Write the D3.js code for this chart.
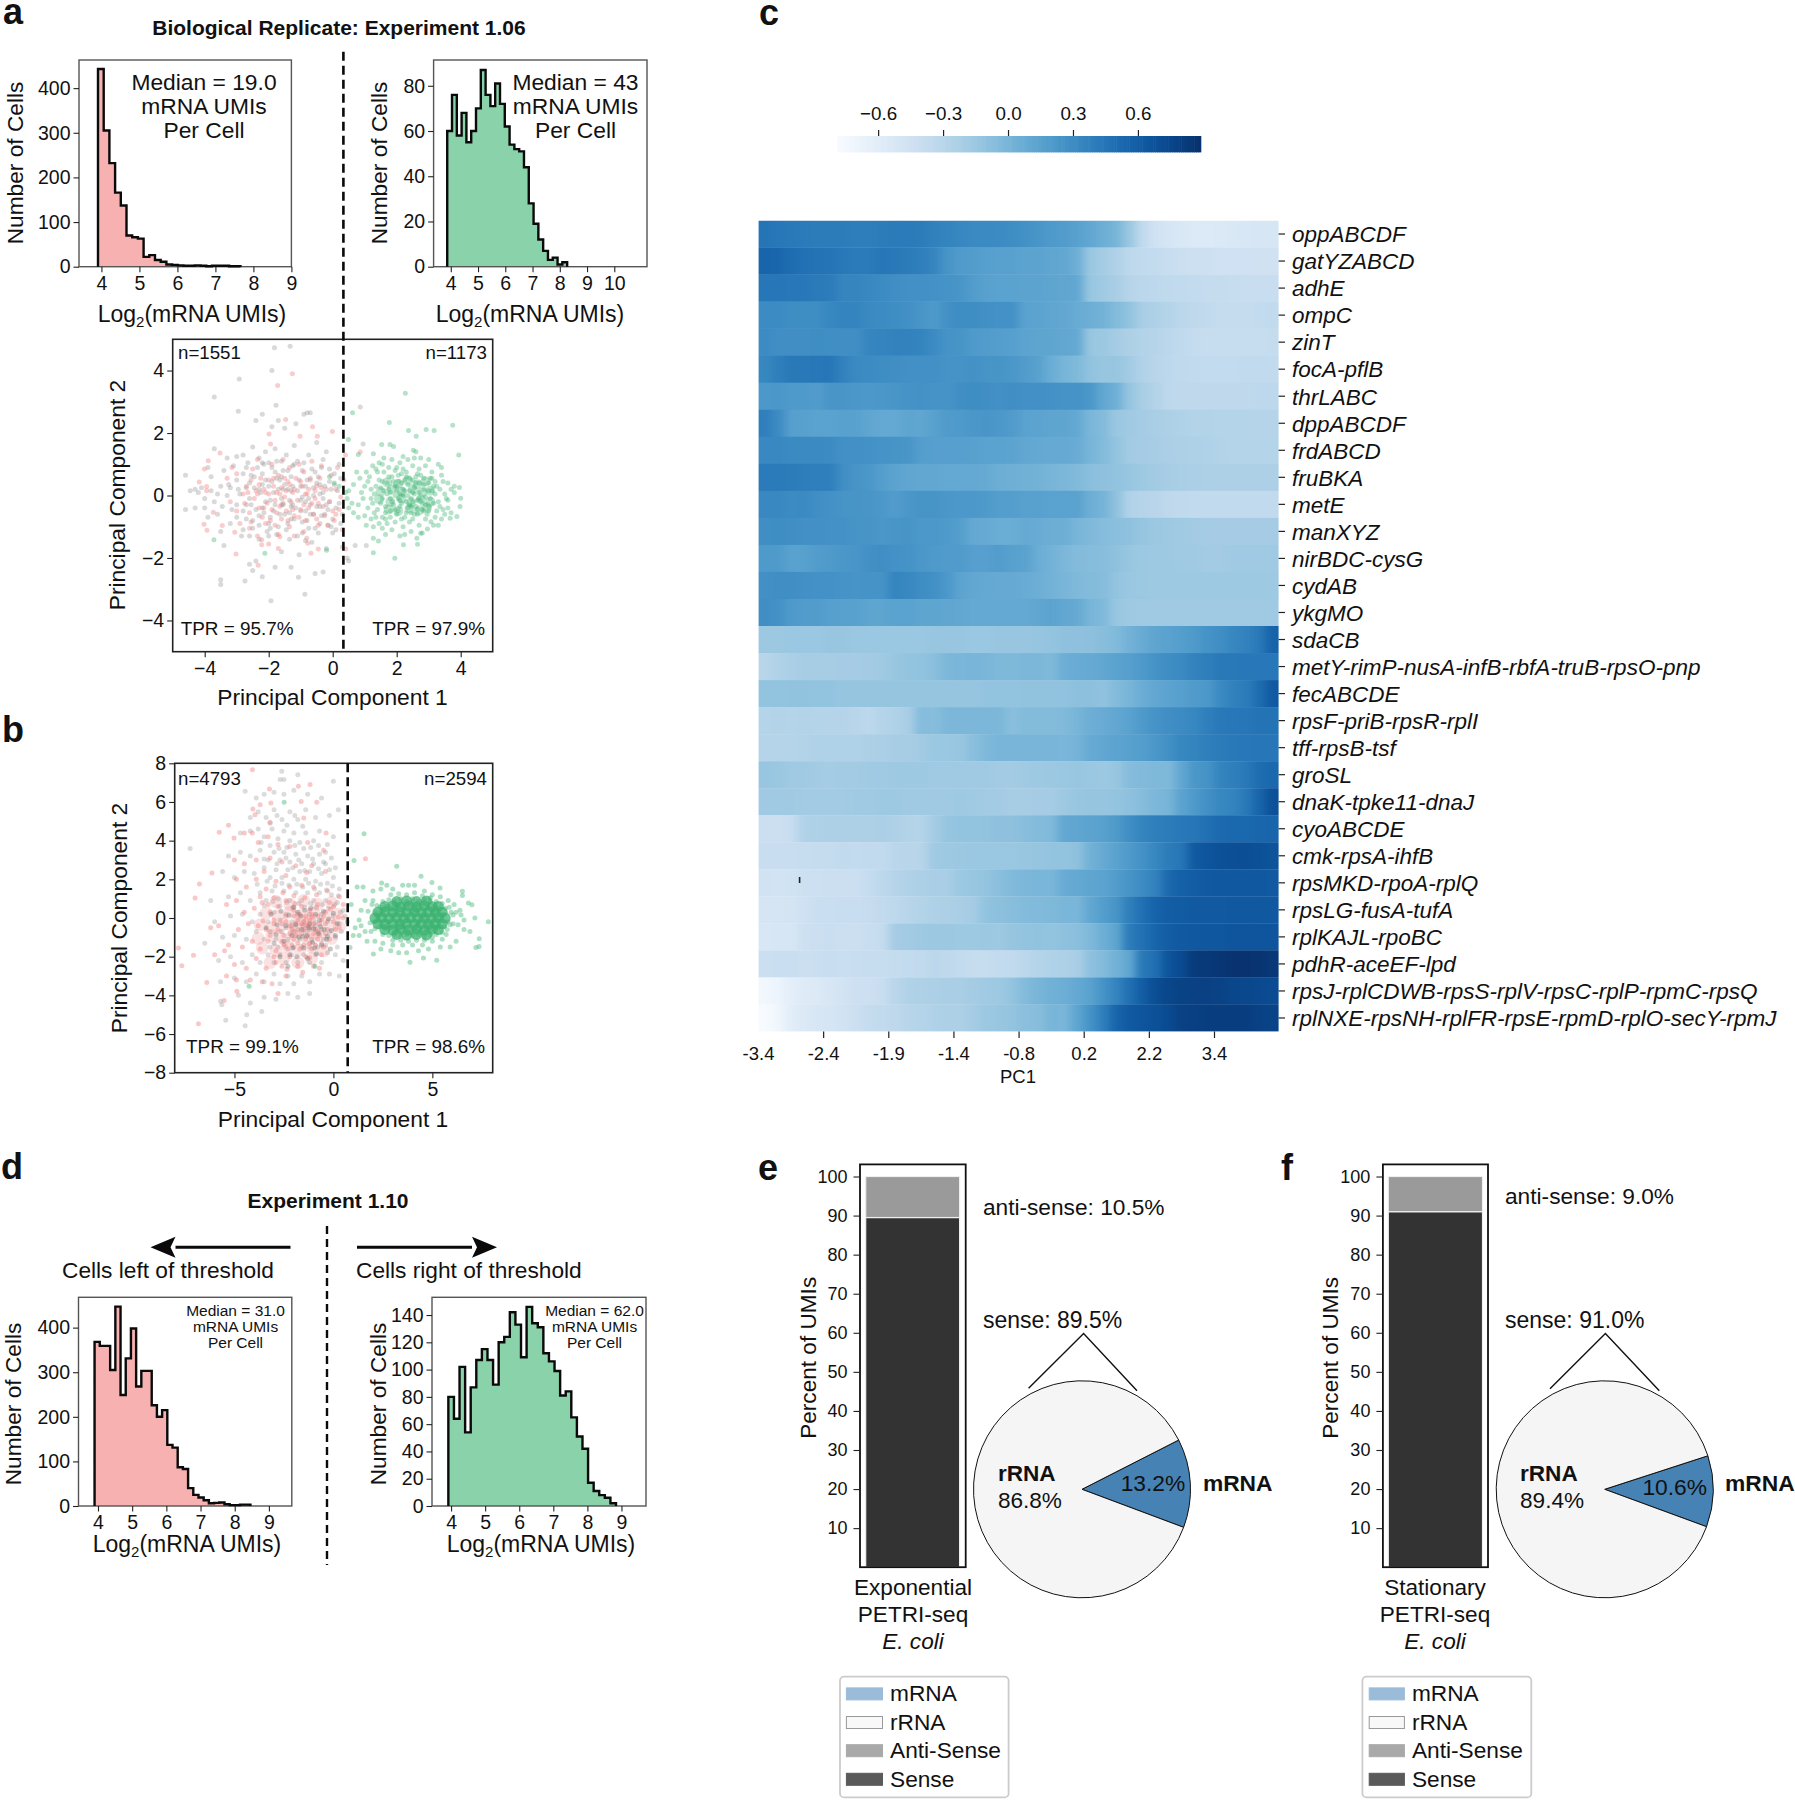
<!DOCTYPE html>
<html><head><meta charset="utf-8">
<style>html,body{margin:0;padding:0;background:#fff}svg{display:block}text{font-family:"Liberation Sans",Arial,sans-serif;fill:#111}</style>
<script src="https://cdn.jsdelivr.net/npm/d3@7"></script></head><body><script>
// ---------- data ----------
const histALeft=[443,305,232,166,137,70,66,63,22,26,15,11,5,4,3,2,2,3,2,1,2,2,2,1,1];
const histARight=[60,76,58,68,55,60,70,87,76,71,81,72,62,54,52,51,44,28,19,12,7,3,4,1,2];
const histDLeft=[368,359,359,305,447,249,331,398,268,303,303,226,200,215,137,131,87,83,40,25,19,13,6,7,8,4,2,2,3,3];
const histDRight=[80,64,102,54,87,107,115,107,89,120,124,142,133,109,146,134,131,112,106,99,81,84,65,51,42,17,11,8,6,2];
const genes=["oppABCDF","gatYZABCD","adhE","ompC","zinT","focA-pflB","thrLABC","dppABCDF","frdABCD","fruBKA","metE","manXYZ","nirBDC-cysG","cydAB","ykgMO","sdaCB","metY-rimP-nusA-infB-rbfA-truB-rpsO-pnp","fecABCDE","rpsF-priB-rpsR-rplI","tff-rpsB-tsf","groSL","dnaK-tpke11-dnaJ","cyoABCDE","cmk-rpsA-ihfB","rpsMKD-rpoA-rplQ","rpsLG-fusA-tufA","rplKAJL-rpoBC","pdhR-aceEF-lpd","rpsJ-rplCDWB-rpsS-rplV-rpsC-rplP-rpmC-rpsQ","rplNXE-rpsNH-rplFR-rpsE-rpmD-rplO-secY-rpmJ"];
const pcTicks=["-3.4","-2.4","-1.9","-1.4","-0.8","0.2","2.2","3.4"];
const heat=[
[45,43,42,41,40,40,40,39,39,40,41,41,40,37,35,33,31,31,30,29,26,23,20,18,15,10,5,0,-15,-35,-46,-50,-54,-56,-56,-55,-54,-53,-52,-52],
[55,54,50,47,46,45,42,41,41,44,42,40,38,34,24,19,18,16,15,15,13,13,11,10,5,-15,-20,-25,-33,-36,-37,-40,-42,-43,-44,-45,-45,-45,-46,-46],
[44,44,43,43,41,40,34,34,32,30,28,27,27,26,25,23,18,15,14,14,13,13,12,11,10,-14,-18,-22,-29,-32,-33,-35,-36,-37,-38,-38,-39,-40,-40,-40],
[30,30,29,29,29,33,35,35,31,30,29,27,23,20,27,29,29,27,26,26,14,13,11,10,7,5,2,-5,-11,-22,-25,-28,-32,-34,-36,-38,-38,-38,-37,-36],
[30,28,28,28,29,28,28,28,34,35,36,36,35,30,25,24,20,18,17,16,13,12,12,10,9,-14,-16,-20,-24,-27,-29,-32,-35,-38,-39,-39,-39,-39,-39,-38],
[33,38,42,42,43,44,36,31,30,29,28,27,27,27,25,25,26,24,24,22,18,15,6,0,-3,-11,-14,-14,-19,-26,-30,-33,-35,-36,-37,-37,-37,-36,-36,-36],
[21,22,20,20,18,23,23,22,21,22,23,25,26,25,24,28,29,28,27,28,27,27,26,25,25,22,10,4,-13,-22,-27,-33,-34,-34,-34,-34,-34,-34,-33,-33],
[38,30,16,15,14,14,15,15,11,9,9,12,11,15,19,20,22,23,21,19,14,13,12,12,9,-1,-5,-15,-18,-20,-22,-24,-26,-27,-27,-28,-28,-28,-29,-29],
[32,32,31,31,31,30,27,27,26,25,24,23,17,16,16,16,15,14,14,13,10,9,8,8,7,0,-5,-12,-19,-20,-21,-23,-24,-25,-26,-27,-28,-28,-28,-28],
[41,41,40,39,38,38,28,24,22,17,13,11,10,10,9,9,9,8,5,4,3,2,0,-2,-4,-8,-10,-11,-14,-17,-19,-21,-22,-23,-24,-24,-24,-24,-24,-24],
[32,32,30,31,28,26,24,24,23,21,18,22,24,24,22,21,21,20,17,17,15,15,14,14,14,5,1,-10,-26,-29,-30,-34,-35,-36,-36,-36,-36,-36,-36,-36],
[28,29,28,27,27,26,26,24,24,22,23,24,21,21,20,17,9,8,6,6,8,7,5,5,0,-3,-6,-8,-10,-13,-16,-17,-18,-19,-20,-20,-20,-20,-20,-20],
[20,20,14,15,18,20,22,23,27,28,26,25,22,20,19,19,16,16,18,15,14,6,2,-2,-5,-6,-7,-10,-14,-16,-17,-17,-18,-18,-19,-19,-18,-18,-18,-18],
[27,28,28,27,26,26,25,24,25,25,35,32,29,27,21,13,10,9,8,8,7,5,2,0,-3,-5,-6,-12,-15,-16,-17,-17,-17,-17,-17,-17,-17,-17,-17,-17],
[28,26,20,18,18,16,15,15,12,12,14,14,12,12,11,10,9,9,9,9,9,11,13,10,8,0,-3,-14,-17,-18,-18,-18,-18,-18,-18,-18,-18,-18,-18,-18],
[-16,-16,-15,-15,-15,-14,-14,-15,-15,-15,-15,-15,-15,-14,-14,-14,-15,-15,-14,-14,-14,-13,-12,-10,-10,-9,-7,-4,2,7,12,14,17,20,25,28,33,36,42,56],
[-30,-26,-23,-21,-21,-21,-20,-20,-19,-18,-14,-12,-11,-8,-2,-1,0,-1,-3,-3,-2,-2,-3,5,7,8,10,14,16,20,25,29,31,36,38,42,42,43,43,43],
[-12,-12,-11,-11,-12,-12,-13,-13,-13,-13,-13,-13,-13,-13,-13,-13,-13,-12,-12,-12,-11,-11,-11,-11,-9,-9,-11,-5,0,6,10,13,16,19,21,31,37,40,50,62],
[-28,-27,-28,-27,-28,-29,-29,-30,-33,-28,-26,-22,-6,-7,-2,-2,-2,-2,-2,-8,-5,-5,-5,-4,0,5,7,10,14,20,25,28,30,33,38,42,43,44,46,46],
[-29,-29,-28,-27,-26,-26,-26,-26,-24,-23,-21,-21,-19,-15,-15,-14,-8,-3,0,0,0,0,0,-1,1,8,10,13,15,17,22,27,33,35,38,40,42,43,44,44],
[-14,-15,-18,-18,-19,-20,-19,-19,-18,-18,-17,-17,-17,-18,-18,-18,-18,-18,-19,-19,-18,-17,-16,-15,-14,-15,-16,-14,-6,-4,-3,-3,10,22,25,35,38,42,50,53],
[-18,-18,-18,-19,-19,-19,-19,-18,-18,-17,-17,-18,-18,-18,-18,-17,-18,-19,-19,-21,-21,-20,-20,-17,-14,-13,-13,-12,-10,-6,-2,0,13,20,27,33,35,42,55,68],
[-42,-42,-40,-26,-25,-24,-24,-24,-24,-23,-25,-27,-28,-20,-13,-12,-12,-11,-10,-10,-7,-5,-4,10,11,13,15,20,28,35,38,40,43,44,48,52,53,53,54,55],
[-40,-40,-40,-39,-38,-38,-36,-37,-36,-36,-31,-30,-30,-18,-17,-16,-15,-15,-15,-15,-14,-13,-12,-12,-10,3,8,14,20,26,33,40,44,62,65,68,69,70,68,66],
[-47,-48,-47,-43,-43,-42,-42,-42,-38,-33,-29,-26,-24,-22,-22,-16,-14,-12,-8,-4,-2,-1,-1,7,9,12,13,18,24,30,36,52,58,60,62,63,63,63,63,62],
[-50,-50,-49,-45,-41,-41,-40,-40,-39,-36,-33,-30,-27,-25,-24,-22,-20,-11,-9,-7,-5,-4,-3,-1,-1,10,17,24,38,48,56,60,61,62,62,62,63,63,63,63],
[-53,-52,-52,-44,-42,-41,-42,-42,-40,-38,-20,-19,-17,-16,-16,-17,-17,-16,-17,-13,-12,-11,-12,-10,-8,-3,5,12,40,47,55,60,62,63,64,64,65,65,65,65],
[-42,-41,-41,-42,-41,-40,-41,-40,-39,-39,-38,-37,-36,-32,-34,-37,-39,-39,-37,-36,-32,-28,-26,-25,-22,-10,-5,3,10,42,48,66,72,82,83,85,87,87,86,84],
[-74,-70,-62,-58,-56,-52,-48,-44,-44,-40,-31,-26,-25,-24,-22,-22,-20,-18,-17,-12,-5,0,3,5,9,14,25,35,48,60,70,75,77,78,78,77,75,74,73,72],
[-79,-72,-60,-56,-52,-50,-47,-42,-38,-36,-34,-30,-28,-26,-24,-24,-20,-16,-14,-12,-8,-7,0,-1,12,25,38,55,62,65,68,72,78,79,80,80,80,80,78,76]];

// scatter a: flat x,y lists
const grayA=[-4.6,.65,-4.45,.15,-4.3,.2,-4.2,.1,-4.1,.25,-4.6,-.45,-4.3,-.4,-4,-.1,-3.9,.9,-3.8,.6,-3.7,-.2,-3.6,-.6,-3.5,.3,-3.4,.8,-3.3,0,-3.2,-.9,-3.9,-.7,-3.5,-1.15,-3.4,-1.6,-3.7,1.5,-3.7,3.15,-2.95,2.7,-2.92,3.73,-3,1.25,-3,.5,-2.9,.05,-2.8,-.5,-2.8,1.3,-2.7,.9,-2.7,-.3,-2.6,-1.3,-2.5,1.55,-2.6,.4,-2.5,-.8,-2.4,2.4,-2.4,-2.1,-2.6,-2.2,-2.5,-2.4,-2.3,1.2,-2.3,-1.4,-2.2,2.6,-2.2,.7,-2.1,-.2,-1.82,4.73,-1.33,4.78,-1.9,4,-3.5,-2.7,-3.5,-2.85,-2.74,-2.74,-1.93,-3.37,-.87,-3.16,-1.07,-2.62,-1.77,2.89,.86,2.83,-2.1,1.4,-2,-1.3,-2,.3,-1.95,-.7,-1.9,2.2,-1.9,.9,-1.85,.1,-1.8,-2.3,-1.8,-.3,-1.75,1.1,-1.7,-1,-1.7,2.4,-1.65,.5,-1.6,-.1,-1.6,-1.8,-1.55,.8,-1.5,-.6,-1.5,2.15,-1.45,1.3,-1.4,-.9,-1.4,.2,-1.35,-1.4,-1.3,-2.3,-1.3,.6,-1.25,-.3,-1.2,1.6,-1.2,-.75,-1.15,2.3,-1.1,.15,-1.1,1.1,-1.05,-1.9,-1,-.5,-.95,.8,-.95,-1.2,-.9,2.6,-.85,.3,-.85,-.2,-.8,-.8,-.8,2.65,-.7,2.65,-.75,1.3,-.7,.55,-.65,-1.5,-.6,0,-.6,-.6,-.55,-2.5,-.5,1.7,-.5,.4,-.45,-1.2,-.4,-.35,-.4,-.9,-.35,.9,-.3,-2.45,-.3,.1,-.25,-.6,-.2,1.4,-.2,-1.7,-.1,.45,-.1,-.2,-.05,-1,0,-1.2,.05,.7,.1,-.4,.2,1,.25,-.9,.3,-1.65,.45,-2,.5,-2.1,.7,-1.6,.95,1.65,1.05,-1.6,-2.3,.2,-2.2,-.4,-2,-.9,-2.15,1,-2.7,.25,-2.45,.6,-2.3,-.65,-1.75,.55,-1.55,.2,-1.3,-.35,-1.25,.95,-.95,-.05,-.55,.75,-1.8,1.5,-2.8,-1.1,-2.2,-2.6,-3,-.3,-1.6,.6,-.85,-.5,-.3,-.1,
-3.3,1.2,-3.25,.35,-3.15,-.45,-3.1,.95,-3,-.7,-2.95,.2,-2.85,-1.3,-2.8,.7,-2.7,-.75,-2.65,1.05,-2.6,-.1,-2.55,.65,-2.5,-1.05,-2.45,.25,-2.4,-.45,-2.35,.9,-2.3,-.95,-2.25,.1,-2.2,1.05,-2.15,-.55,-2.1,.5,-2.05,-1.15,-2,1.05,-1.95,-.15,-1.9,.45,-1.85,-.5,-1.8,.75,-1.75,-1.25,-1.7,.2,-1.65,-.6,-1.6,1.1,-1.55,-.3,-1.5,.35,-1.45,-1.1,-1.4,.8,-1.35,-.15,-1.3,-.75,-1.25,.3,-1.2,1,-1.15,-.4,-1.1,-1.3,-1.05,.5,-1,-.15,-.95,-.85,-.9,1.05,-.85,-1.45,-.8,.5,-.75,-.1,-.7,-.6,-.65,.85,-.6,.25,-.55,-1.05,-.5,-.35,-.45,.6,-.4,.05,-.35,-.65,-.3,1.15,-.25,.3,-.2,-.3,-.15,-.95,-.1,.85,-.05,.2,0,-.75,.05,.35,.1,-1.1,.15,.15,.2,-.25,.25,.55,.3,-.6,-2.2,.35,-1.6,-.3,-1.3,.15,-1,.3,-.7,-.3,-.4,.35,-2.55,-.3,-1.95,-1.05,-1.35,-.55,-.75,-1.05,-.15,-.45,-3.6,.05,-3.45,-.35,-3.2,.25,-4,-.4,-3.8,.15];
const redA=[-1.26,3.9,-1.72,3.52,-1.47,2.43,-.63,2.2,-.01,2.05,-.48,1.9,-1.99,1.97,-1.02,1.9,-1.94,1.65,-3.52,1.36,-3.89,1.11,-4.01,.85,-4.17,.43,-3.94,.29,-3.94,.15,-3.73,-.54,-4.02,-.92,-3.93,-1.11,-3.45,-.96,-3.06,-1.18,-3.02,-1.87,-2.33,-2.23,-2.22,-1.42,-2.22,-1.58,-.45,-1.71,-.68,-1.85,.41,-1.71,.86,1.39,-.81,-1.37,-.78,-1.53,-1.65,-1.32,-3.3,.55,-3.2,-.2,-3,-.5,-3,.7,-2.8,.05,-2.75,-.25,-2.7,.3,-2.6,-.55,-2.55,.5,-2.5,.85,-2.45,-.1,-2.4,.15,-2.35,1.15,-2.3,-.4,-2.25,.55,-2.2,-.7,-2.15,.2,-2.1,.1,-2.05,-.25,-2,.5,-1.95,-.8,-1.9,1,-1.85,.3,-1.8,-.15,-1.8,-.95,-1.75,.1,-1.7,.65,-1.65,-.35,-1.6,.25,-1.6,-.75,-1.55,1.15,-1.5,-.05,-1.45,-.5,-1.4,.45,-1.35,.9,-1.35,-1,-1.3,-.2,-1.25,.1,-1.2,-.65,-1.15,.55,-1.1,-.15,-1.05,1,-1,-.45,-.95,.3,-.9,.75,-.85,-.8,-.8,.05,-.75,-.4,-.7,.5,-.65,1.1,-.6,-.6,-.55,-.1,-.5,.3,-.45,-.95,-.4,.55,-.35,.95,-.3,-.35,-.25,-.65,-.2,.2,-.15,-.95,-.1,-.2,-.05,.65,0,-.5,.05,-.8,.1,.2,.15,.9,.2,-.45,.25,-.05,.3,-1.1,.35,.5,.4,1.3,-2.9,-.9,-3.15,.9,-2.6,-1.05,-2.35,-1.3,-2,-1.55,-1.7,-1.7,-1.2,-1.3,-.9,-1.15,
-2.65,.1,-2.35,.05,-2.3,.35,-2.15,-.4,-2,.05,-1.9,-.45,-1.85,.55,-1.75,-.55,-1.65,.05,-1.55,-.25,-1.5,.55,-1.45,.15,-1.4,-.8,-1.35,.35,-1.25,-.45,-1.2,.2,-1.05,-.7,-1,.45,-.9,-.3,-.85,.05,-.75,.2,-.65,-.25,-.55,.15,-.45,-.25,-.35,.25,-2.55,-.85,-2.1,-.9,-1.7,-1.25,-.5,-.75,.1,-.6];
const greenA=[2.27,3.27,.62,2.65,1.77,2.34,3.75,2.25,2.92,2.11,3.17,2.08,2.37,2.08,2.61,1.9,3.94,1.3,.49,1.79,1.94,-2.01,1.27,-1.83,-.19,-1.75,-2.12,-1.85,-3.71,-1.42,3.98,-.35,4,-.09,3.96,.26,3.88,-.67,3.67,-.73,1.43,-1.46,1.27,-1.37,2.21,-1.58,2.65,-1.56,2.63,-1.37,2.75,-1.21,3.07,-.84,2.96,-1.07,1.27,-1,1.53,1.63,1.79,1.63,1.9,1.57,2.52,1.45,1.27,1.34,.8,1.31,2.6,1.4,3.3,1,3.4,.65,3.6,.4,3.7,.2,3.55,-.1,3.45,-.45,3.4,-.75,3.25,-.5,3.15,-.95,2.45,-1.15,2.1,-1.3,1.85,-1.1,1.55,-1.05,1.45,-.9,1.2,-.75,1,-.65,.8,-.7,.65,-.55,.5,-.4,.45,-.1,.5,.15,.65,.35,.85,.55,1.05,.75,.75,.75,-.1,.6,.05,.4,.2,.3,.4,.1,.6,-.25,.8,-.3,.95,-.1,1,.3,1.15,.6,1.25,.95,1.45,1.05,1.6,1.2,1.85,1.15,2.1,1.05,2.35,1.15,2.75,1.2,2.9,.95,3.1,.75,3.2,.45,3.35,.2,3.3,-.2,3.2,-.7,2.9,-.75,2.7,-.95,2.4,-.85,2.2,-1,1.95,-.85,1.7,-.9,1.55,-.7,1.3,-.55,1.25,-.25,1.3,.05,1.35,.3,1.45,.5,1.6,.75,1.75,.9,2,.9,2.2,.85,2.5,.95,2.65,.7,2.85,.55,3,.4,3.1,.15,3.05,-.1,3,-.35,2.85,-.5,2.65,-.6,2.45,-.55,2.25,-.7,2,-.6,1.8,-.5,1.65,-.35,1.55,-.1,1.6,.15,1.7,.4,1.85,.6,2.05,.65,2.3,.6,2.5,.5,2.7,.4,2.85,.2,2.9,-.05,2.8,-.25,2.6,-.35,2.35,-.4,2.1,-.35,1.9,-.3,1.8,-.1,1.8,.1,1.95,.3,2.15,.4,2.35,.35,2.55,.25,2.7,.1,2.7,-.1,2.5,-.2,2.3,-.2,2.1,-.15,1.95,0,2,.15,2.2,.2,2.4,.15,2.55,.05,2.35,0,2.2,0,2.1,.05,2.45,-.1,2.65,-.45,3.15,.3,2.05,-.5,2.15,-.75,1.75,.2,3.05,.55,1.5,.25,1.4,-.45,2.95,-.6,2.25,.5,2.6,.6,1.85,-.2,2.75,-.15,2.4,-.3,2.05,.45,1.65,-.55,3.2,.05,2.5,-.75,1.95,.8,2.3,.75,2.7,.85,1.2,.2,1.1,-.4,.9,.1,3.5,.05,3.6,-.4,
1.1,.45,1.2,-.1,1.35,-.7,1.4,.75,1.5,-.25,1.55,.45,1.65,-.75,1.7,.05,1.75,.6,1.8,-.7,1.9,.45,1.95,-.45,2,.3,2.05,-.1,2.15,.7,2.15,-.25,2.25,.15,2.3,-.55,2.4,.55,2.45,-.35,2.5,.1,2.55,-.6,2.6,.4,2.65,-.15,2.75,.65,2.8,-.45,2.85,.35,2.9,-.3,3,.15,3,-.5,3.1,.55,3.15,-.25,3.25,.3,3.35,-.35,3.45,.45,3.5,-.6,2.55,1.2,2.2,1.25,1.55,1,3,1.15,3.4,.9,1.35,.85,1.05,-.95,1.65,-1.25,2.25,-1.25,2.8,-1.2,3.3,-.95,3.6,-.15,3.7,-.55,3.8,.3,3.8,.1];
// dense centre of a's right-hand cluster, drawn as wider soft dots
const greenACore=[1.75,-.45,2.05,-.5,2.4,-.42,2.7,-.48,2.95,-.38,1.45,-.12,1.8,-.2,2.15,-.1,2.45,-.22,2.75,-.12,3.05,-.2,1.5,.12,1.85,.2,2.15,.12,2.5,.2,2.8,.1,3.05,.15,1.7,.42,2.05,.38,2.35,.48,2.65,.36,2.9,.45];
// scatter b
const grayB=[-7.24,3.6,-5.64,-4.48,-4.38,-5,-4.46,-5.57,-5.44,-5.29,-3.62,-4.83,-2.61,7.59,-2.69,7.16,-2.5,7.16,-1.8,7.41,0,7.07,-4.46,6.55,.25,5.6,-3.9,6.2,-3.5,6.4,-3,6.5,-2.5,6.4,-2,6.6,-1.3,6.4,-.6,6.2,-4.2,5.2,-3.8,5.5,-3.4,5.2,-3,5.6,-2.6,5.1,-2.2,5.5,-1.8,5.1,-1.4,5.6,-.9,5.2,-.2,5.3,-4.7,4.4,-4.2,4.5,-3.8,4.6,-3.5,4.2,-3.1,4.6,-2.8,4.1,-2.5,4.5,-2.2,4,-2,4.4,-1.7,3.9,-1.4,4.4,-1,4,-.7,4.5,-.3,3.8,0,4.2,-5.3,3.2,-4.7,3.4,-4.2,3.2,-3.7,3.5,-3.3,3,-3,3.4,-2.7,3,-2.5,3.4,-2.2,2.9,-1.9,3.3,-1.6,2.8,-1.3,3.2,-1,2.8,-.7,3.3,-.4,2.8,-.1,3.1,.1,2.6,-5.6,2.4,-5,2.1,-4.5,2.4,-4,2.3,-3.5,2.6,-3.2,2.1,-2.9,2.5,-2.6,2.1,-2.3,2.5,-2,2,-1.7,2.4,-1.4,2,-1.2,2.4,-.9,1.9,-.6,2.3,-.3,1.8,0,2.1,.3,1.5,-6.2,.9,-5.3,1.1,-4.7,1.3,-4.2,.9,-3.7,1.3,-3.4,.9,-3.1,1.4,-2.8,1,-2.5,1.4,-2.2,.9,-1.9,1.3,-1.6,.9,-1.3,1.3,-1,.9,-.7,1.3,-.4,.9,-.1,1.2,.2,.8,.5,.4,-6,-.2,-5.2,.1,-4.6,.2,-4.1,-.2,-3.7,.2,-3.3,-.2,-3,.3,-2.7,-.1,-2.4,.2,-2.1,-.2,-1.8,.2,-1.5,-.2,-1.2,.2,-.9,-.2,-.6,.2,-.3,-.2,0,.1,.3,-.3,.6,.1,-6.5,-1.3,-5.6,-1,-5,-.9,-4.4,-1.1,-3.9,-.7,-3.5,-1.1,-3.2,-.7,-2.9,-1.1,-2.6,-.7,-2.3,-1.1,-2,-.7,-1.7,-1.1,-1.4,-.7,-1.1,-1.1,-.8,-.7,-.5,-1.1,-.2,-.7,.1,-1,.4,-.7,-5.8,-2.2,-5.2,-2,-4.6,-2.3,-4.1,-1.9,-3.7,-2.3,-3.3,-1.9,-3,-2.3,-2.7,-1.9,-2.4,-2.3,-2.1,-1.9,-1.8,-2.3,-1.5,-1.9,-1.2,-2.3,-.9,-1.9,-.6,-2.3,-.3,-1.8,.1,-1.9,.5,-2.2,-5.7,-3.3,-5,-3.1,-4.4,-3.3,-3.9,-2.9,-3.5,-3.3,-3,-2.9,-2.7,-3.4,-2.3,-3,-2,-3.4,-1.6,-3,-1.2,-3.3,-.7,-2.9,-.2,-2.9,.3,-3,-5.7,-4.3,-4.8,-4,-4.2,-4.4,-3.5,-4.1,-2.9,-4.2,-2.3,-3.9,-1.8,-4.1,-1.2,-3.9,-2.4,-.5,-2.1,-.4,-1.8,-.6,-1.5,-.4,-1.2,-.6,-.9,-.4,-.6,-.6,-3.2,-1.5,-2.8,-1.5,-2.4,-1.5,-2,-1.5,-1.6,-1.5,-1.2,-1.5,-.8,-1.5,-.4,-1.4,.2,-1.5,
-3.2,4.9,-2.85,5.3,-2.35,4.8,-1.95,5.3,-1.55,4.75,-3.65,3.9,-3.2,3.75,-2.75,3.6,-2.35,3.65,-1.95,3.75,-1.5,3.6,-1.15,3.65,-.75,3.75,-.4,3.4,-3.5,3.05,-2.85,2.8,-2.4,3.1,-2.05,2.6,-1.75,3,-1.45,2.45,-1.05,3.05,-.75,2.55,-.5,2.9,-.2,2.5,-3.85,1.75,-3.35,1.9,-2.95,1.65,-2.6,1.8,-2.25,1.7,-1.85,1.75,-1.55,1.6,-1.25,1.8,-.95,1.5,-.65,1.75,-.35,1.45,-.05,1.65,.25,1.15,-3.5,.65,-3.05,.85,-2.7,.6,-2.35,.8,-2.05,.55,-1.75,.75,-1.45,.55,-1.15,.75,-.85,.55,-.55,.7,-.25,.5,.05,.7,.35,.3];
const grayBTop=[-3.4,-.5,-3.15,.2,-3,-1.3,-2.85,-.35,-2.7,-2,-2.65,.35,-2.5,-1.2,-2.4,-.4,-2.3,-2.5,-2.25,.15,-2.1,-.9,-2.05,-1.55,-2,.55,-1.9,-.35,-1.85,-2,-1.75,-1,-1.65,.1,-1.6,-.6,-1.5,-1.55,-1.45,.4,-1.35,-.95,-1.3,-2.1,-1.2,-.3,-1.15,.5,-1.05,-1.25,-1,-.55,-.9,.2,-.85,-1.85,-.75,-.8,-.7,-.1,-.6,-1.4,-.5,.35,-.45,-.6,-.35,-1.1,-.25,-.05,-.15,-1.6,-.1,-.65,0,.25,.1,-.9,.2,-.3,-2.9,-.85,-2.2,-1.9,-1.8,.3,-1.55,-.95,-1.25,-.5,-.95,-1.55,-.65,-.45,-.3,-.95];
const redB=[-4.09,7.67,1.62,3.07,-6.82,-5.47,-4.88,-3.79,-5.52,-4.26,-7.83,-1.55,-7.66,-2.47,-7.07,-1.93,-6.4,-3.33,-6.99,1.03,-6.77,1.76,-6.14,2.33,-5.77,4.43,-5.3,4.79,-5.02,4.14,-.37,4.4,-1.77,6.81,-1.18,6.9,-.84,5.98,-1.63,6.03,-3.23,6.67,-3.16,5.95,-3.7,5.86,-4.07,5.64,-3.96,5.34,-1.5,5.17,-3.2,4.95,-4.5,4.4,-4.1,4.4,-3.8,3.9,-3.3,4.2,-2.8,3.8,-2.2,3.7,-1.3,3.9,-.5,3.5,-5,3,-4.5,2.8,-3.9,3,-3.2,3.1,-2.6,2.9,-1.9,2.7,-1.1,2.7,-.4,2.4,-4.9,2,-4.4,1.6,-3.9,2,-3.4,1.5,-2.9,1.9,-2.2,1.6,-1.6,1.7,-1,1.6,-.3,1.4,.3,1.1,-5.4,.7,-4.9,.9,-4.5,.3,-4,.5,-3.6,.8,-3.2,.3,-2.8,.6,-2.4,.9,-2,.4,-1.6,.6,-1.2,.4,-.8,.7,-.4,.3,0,.6,.5,.7,-6.2,-.5,-5.8,-.4,-5.3,-1.4,-4.8,-.6,-4.3,-.3,-3.8,-.4,-3.4,-.6,-3,-.1,-2.7,-.7,-2.4,-.2,-2.1,-.6,-1.8,-.1,-1.5,-.6,-1.2,-.1,-.9,-.6,-.6,-.1,-.3,-.6,0,-.2,.3,-.5,.5,0,-6,-1.9,-5.5,-1.7,-5,-2.4,-4.6,-1.5,-4.1,-1.2,-3.7,-1.6,-3.3,-1.2,-2.9,-1.7,-2.6,-1.2,-2.3,-1.6,-2,-1.1,-1.7,-1.6,-1.4,-1.1,-1.1,-1.6,-.8,-1.1,-.5,-1.5,-.2,-1.1,.1,-.6,-5.4,-3,-4.9,-3.2,-4.4,-2.6,-3.9,-2.1,-3.4,-2.6,-3,-2,-2.6,-2.5,-2.2,-2,-1.8,-2.5,-1.4,-2,-1,-2.5,-.6,-1.9,-4.2,-3.2,-3.6,-3.3,-3.1,-3.4,-2.8,-3.9,-2.4,-3,-3.2,-.9,-2.8,-.6,-2.5,-.9,-2.2,-.8,-1.9,-.9,-1.6,-.8,-1.3,-.9,-1,-.8,-.7,-.9,-.4,-.8,-3,-.3,-2.6,-.3,-2.2,-.4,-1.9,-.3,-1.6,-.3,-1.3,-.4,-1,-.3,-.7,-.3,-.4,-.3,-2.5,-1.4,-2.1,-1.4,-1.8,-1.3,-1.5,-1.4,-1.2,-1.3,-.9,-1.4,-.6,-1.3,-2.4,.1,-2,.1,-1.7,.2,-1.4,.1,-1.1,.2,-.8,.1,-.5,.1,
-3.5,2.4,-2.4,2.2,-1.35,2.35,-3.7,1.1,-3,1.05,-2.55,1.3,-2,1.15,-1.45,1.05,-.85,1.2,-.2,.8,-3.55,-.15,-3.3,.7,-1.95,.75,-1.05,.05,-.15,.45,.25,.05,-2.9,-2.3,-2.35,-2.65,-1.55,-2.8,-1.2,-2.05,-.7,-2.6];
// dense red centre of b's left-hand cloud, drawn as wider soft dots
const redBCore=[-3.2,-2.3,-2.5,-2.1,-1.8,-2.3,-1.1,-2.1,-3.6,-1.55,-2.9,-1.7,-2.3,-1.5,-1.7,-1.65,-1.1,-1.5,-.5,-1.7,-3.8,-1.05,-3.1,-.9,-2.5,-1.1,-1.9,-.95,-1.3,-1.1,-.7,-.9,-.1,-1.05,-3.7,-.35,-3.1,-.5,-2.5,-.3,-1.9,-.45,-1.3,-.3,-.7,-.5,-.1,-.3,.3,-.45,-3.4,.25,-2.8,.1,-2.2,.3,-1.6,.15,-1,.25,-.4,.1,.2,.2,-2.9,.85,-2.2,.7,-1.5,.9,-.8,.7,-.1,.8,-2,-.7,-1.4,-.5,-1,-.8,-1.7,-.1,-1.2,-.2];
const greenB=[1.55,4.36,-2.49,5.98,-4.26,-3.53,-.93,-2.5,3.2,2.67,4.43,2.16,4.98,1.84,5.39,1.55,6.52,1.38,6.52,1.17,7.83,-.2,7.37,-1.07,7.36,-1.47,7.2,-1.52,7,.69,6.82,.78,7.15,0,5.22,-2.19,3.87,-2.29,2.02,-1.86,.84,-1.52,1.04,2.97,2.44,1.81,4.55,-2.07,1.2,1.6,1.5,1.6,2.7,1.7,3.5,1.7,3.8,1.7,4.1,1.7,.9,.7,.7,-.2,1.1,-.5,1.3,-.9,1,-.9,1.7,-1.2,2.4,-1.6,2.9,-1.7,3.3,-1.8,3.7,-1.8,4.3,-1.7,4.8,-1.6,5.4,-1.5,5.9,-1.5,6.2,-1.2,6.6,-.6,6.9,-.7,6.6,-.1,6.4,.4,6.1,.7,5.8,.9,5.4,1.1,2,1.4,2.4,1.5,3,1.5,4.6,1.4,5,1.2,1.6,.9,1.4,.4,1.3,-.1,1.4,-.4,1.6,-.7,2,.9,2.1,-1.2,2.5,-1.3,3,-1.4,3.5,-1.4,4,-1.4,4.5,-1.4,5,-1.2,5.5,-1.1,
2.2,.1,2.5,.35,2.75,-.2,3,.15,3.3,-.3,3.55,.2,3.8,-.15,4.05,.3,4.3,-.25,4.55,.1,4.8,-.3,5.05,.25,5.3,-.1,5.55,.2,5.8,-.2,2.3,-.45,2.6,-.55,2.9,-.5,3.2,-.6,3.5,-.5,3.8,-.65,4.1,-.5,4.4,-.6,4.7,-.55,5,-.6,5.3,-.5,5.6,-.45,5.9,-.35,2.35,.55,2.65,.6,2.95,.5,3.25,.65,3.55,.55,3.85,.65,4.15,.5,4.45,.65,4.75,.55,5.05,.6,5.35,.5,5.65,.5,5.95,.3,2.5,-.85,2.8,-.9,3.1,-.85,3.4,-.95,3.7,-.85,4,-.95,4.3,-.85,4.6,-.95,4.9,-.85,5.2,-.85,5.5,-.75,2.5,.85,2.8,.95,3.1,.85,3.4,1,3.7,.85,4,1,4.3,.85,4.6,.95,4.9,.85,5.2,.85,5.5,.75,2.9,1.2,3.3,1.25,3.7,1.2,4.1,1.3,4.5,1.15,4.9,1.05,3,-1.15,3.4,-1.15,3.8,-1.2,4.2,-1.15,4.6,-1.15,5,-1,2.05,-.2,2.15,.3,2.1,-.55,2.2,.65,5.85,.55,6.05,.15,6.05,-.3,6.2,.3,5.75,-.6,5.7,-.85,1.75,.35,1.85,-.25,1.95,.7,1.9,-.7,6.3,-.35,6.45,.15];
// dense core of b's right-hand cluster, drawn as wider dots
const greenBCore=[3.2,-.85,3.7,-.88,4.2,-.85,4.7,-.88,2.6,-.6,3,-.62,3.4,-.58,3.8,-.62,4.2,-.58,4.6,-.62,5,-.58,5.3,-.6,2.25,-.3,2.6,-.32,3,-.28,3.35,-.32,3.7,-.28,4.1,-.32,4.45,-.28,4.8,-.32,5.15,-.28,5.5,-.3,2.1,0,2.45,.02,2.8,-.02,3.2,.02,3.55,-.02,3.9,.02,4.25,-.02,4.6,.02,4.95,-.02,5.3,.02,5.65,0,2.25,.3,2.6,.32,3,.28,3.35,.32,3.7,.28,4.1,.32,4.45,.28,4.8,.32,5.15,.28,5.5,.3,2.6,.6,3,.62,3.4,.58,3.8,.62,4.2,.58,4.6,.62,5,.58,5.3,.6,3.2,.85,3.7,.88,4.2,.85,4.7,.88];
const labelsE=["Exponential","PETRI-seq","E. coli"], labelsF=["Stationary","PETRI-seq","E. coli"];
const stackE=[89.5,10.5], stackF=[91.0,9.0];
const pieE=[13.2,86.8], pieF=[10.6,89.4];
const legendNames=["mRNA","rRNA","Anti-Sense","Sense"];
const legendColors=["#9bbcd9","#f8f8f8","#a9a9a9","#5a5a5a"];

// ---------- helpers ----------
const svg=d3.select("body").append("svg").attr("width",1795).attr("height",1800);
function T(x,y,s,o={}){const t=svg.append("text").attr("x",x).attr("y",y).attr("font-size",o.size||19).attr("text-anchor",o.anchor||"start").text(s);
 if(o.bold)t.attr("font-weight","bold"); if(o.italic)t.attr("font-style","italic");
 if(o.rotate)t.attr("transform",`rotate(-90 ${x} ${y})`); return t;}
function logLabel(cx,y){const t=svg.append("text").attr("x",cx).attr("y",y).attr("font-size",23).attr("text-anchor","middle");
 t.append("tspan").text("Log");t.append("tspan").attr("font-size",15).attr("dy",5).text("2");t.append("tspan").attr("dy",-5).text("(mRNA UMIs)");}
function axes(b,x,y,xt,yt){
 const fmt=d=>String(d).replace("-","\u2212");
 const ax=svg.append("g").attr("transform",`translate(0,${b.y1})`).call(d3.axisBottom(x).tickValues(xt).tickSize(5.5).tickPadding(4).tickFormat(fmt));
 const ay=svg.append("g").attr("transform",`translate(${b.x0},0)`).call(d3.axisLeft(y).tickValues(yt).tickSize(5.5).tickPadding(3).tickFormat(fmt));
 [ax,ay].forEach(g=>{g.select(".domain").remove();g.selectAll("text").attr("font-size",19.5).attr("fill","#111").attr("font-family","Liberation Sans");g.selectAll("line").attr("stroke","#222").attr("stroke-width",1.1);});
}
function frame(b,c="#333",w=1.6){svg.append("rect").attr("x",b.x0).attr("y",b.y0).attr("width",b.x1-b.x0).attr("height",b.y1-b.y0).attr("fill","none").attr("stroke",c).attr("stroke-width",w);}
function hist(b,xd,yd,xt,yt,vals,start,w,fill){
 const x=d3.scaleLinear().domain(xd).range([b.x0,b.x1]),y=d3.scaleLinear().domain(yd).range([b.y1,b.y0]);
 const pts=vals.map((v,i)=>[start+i*w,v]);pts.push([start+vals.length*w,0]);
 svg.append("path").attr("d",d3.area().x(d=>x(d[0])).y0(y(0)).y1(d=>y(d[1])).curve(d3.curveStepAfter)(pts)).attr("fill",fill);
 frame(b,"#555",1.4);
 svg.append("path").attr("d",d3.line().x(d=>x(d[0])).y(d=>y(d[1])).curve(d3.curveStepAfter)([[start,0],...pts])).attr("fill","none").attr("stroke","#0a0a0a").attr("stroke-width",2.4);
 axes(b,x,y,xt,yt);
}
function scatter(b,xd,yd,xt,yt,layers){
 const x=d3.scaleLinear().domain(xd).range([b.x0,b.x1]),y=d3.scaleLinear().domain(yd).range([b.y1,b.y0]);
 layers.forEach(([arr,c,a,r])=>{const p=d3.range(0,arr.length,2).map(i=>[arr[i],arr[i+1]]);
  svg.append("g").selectAll("circle").data(p).join("circle").attr("cx",d=>x(d[0])).attr("cy",d=>y(d[1])).attr("r",r||2.5).attr("fill",c).attr("fill-opacity",a);});
 frame(b,"#222",1.6); axes(b,x,y,xt,yt); return x;
}
function dashed(x,y0,y1,w=2.6,da="9,5"){svg.append("line").attr("x1",x).attr("x2",x).attr("y1",y0).attr("y2",y1).attr("stroke","#0a0a0a").attr("stroke-width",w).attr("stroke-dasharray",da);}

// ---------- panel letters and titles ----------
[["a",3,24],["b",2,742],["c",759,25],["d",1,1179],["e",758,1180],["f",1281,1180]].forEach(([s,x,y])=>T(x,y,s,{size:36,bold:true}));
T(339,35,"Biological Replicate: Experiment 1.06",{size:21,bold:true,anchor:"middle"});
T(328,1208,"Experiment 1.10",{size:21,bold:true,anchor:"middle"});

// ---------- a histograms ----------
const pink="#f7b1b1",grn="#8ad3aa";
hist({x0:79,x1:291.4,y0:60,y1:266.7},[3.41,9],[0,463],[4,5,6,7,8,9],[0,100,200,300,400],histALeft,3.91,.15,pink);
hist({x0:433.6,x1:647,y0:60,y1:266.7},[3.37,11.2],[0,91.4],[4,5,6,7,8,9,10],[0,20,40,60,80],histARight,3.87,.176,grn);
["Median = 19.0","mRNA UMIs","Per Cell"].forEach((s,i)=>T(204,90+24*i,s,{size:22.8,anchor:"middle"}));
["Median = 43","mRNA UMIs","Per Cell"].forEach((s,i)=>T(575.5,90+24*i,s,{size:22.8,anchor:"middle"}));
T(23,163,"Number of Cells",{size:22.7,anchor:"middle",rotate:true});
T(387,163,"Number of Cells",{size:22.7,anchor:"middle",rotate:true});
logLabel(192,322);logLabel(530,322);

// ---------- a scatter ----------
scatter({x0:172.7,x1:492.7,y0:339.3,y1:651.7},[-5,5],[-5,5],[-4,-2,0,2,4],[-4,-2,0,2,4],[[grayA,"#808080",.3],[redA,"#f07c7c",.38],[greenACore,"#3cb371",.34,5],[greenA,"#3cb371",.38]]);
dashed(343.4,51.7,651.7);
T(178,359,"n=1551",{size:18.7});T(487,359,"n=1173",{size:18.7,anchor:"end"});
T(180.7,635,"TPR = 95.7%",{size:18.9});T(485,635,"TPR = 97.9%",{size:18.9,anchor:"end"});
T(332.5,705,"Principal Component 1",{size:22.8,anchor:"middle"});
T(125,495,"Principal Component 2",{size:22.8,anchor:"middle",rotate:true});

// ---------- b scatter ----------
scatter({x0:174.7,x1:492.7,y0:763.3,y1:1072.7},[-8.02,8.05],[-8,8],[-5,0,5],[-8,-6,-4,-2,0,2,4,6,8],[[grayB,"#808080",.28],[redBCore,"#ee7b7b",.22,6.5],[redB,"#f07c7c",.42],[grayBTop,"#666",.36],[greenBCore,"#3cb371",.75,5.5],[greenB,"#3cb371",.42]]);
dashed(347.7,763.3,1072.7);
T(178,785,"n=4793",{size:18.7});T(487,785,"n=2594",{size:18.7,anchor:"end"});
T(186,1052.7,"TPR = 99.1%",{size:18.9});T(485,1052.7,"TPR = 98.6%",{size:18.9,anchor:"end"});
T(333,1127,"Principal Component 1",{size:22.8,anchor:"middle"});
T(127,918,"Principal Component 2",{size:22.8,anchor:"middle",rotate:true});

// ---------- c heatmap ----------
const hx=d3.scaleBand().domain(d3.range(heat[0].length)).range([758.6,1278.6]);
const hy=d3.scaleBand().domain(genes).range([220.5,1031.5]);
const blue=d3.scaleSequential(d3.interpolateBlues).domain([-.79,.89]);
const defs=svg.append("defs");
defs.append("clipPath").attr("id","hclip").append("rect").attr("x",758.6).attr("y",220.5).attr("width",520).attr("height",811);
const fl=defs.append("filter").attr("id","hblur").attr("filterUnits","userSpaceOnUse").attr("x",700).attr("y",200).attr("width",640).attr("height",850).attr("color-interpolation-filters","sRGB");
fl.append("feGaussianBlur").attr("stdDeviation","4 0");
const hg=svg.append("g").attr("clip-path","url(#hclip)").append("g").attr("filter","url(#hblur)");
const last=heat[0].length-1;
hg.selectAll("g").data(heat).join("g").each(function(row,r){
 d3.select(this).selectAll("rect").data(row).join("rect")
  .attr("x",(d,i)=>hx(i)-(i===0?30:0)).attr("y",hy(genes[r]))
  .attr("width",(d,i)=>hx.bandwidth()+.5+((i===0||i===last)?30:0)).attr("height",hy.bandwidth()+.3).attr("fill",d=>blue(d/100));
});
genes.forEach(g=>{const y=hy(g)+hy.bandwidth()/2;
 svg.append("line").attr("x1",1278.6).attr("x2",1285).attr("y1",y).attr("y2",y).attr("stroke","#222").attr("stroke-width",1.2);
 T(1292,y+8.3,g,{size:22.5,italic:true});});
const pcx=d3.scalePoint().domain(pcTicks).range([758,1214]);
const pa=svg.append("g").attr("transform","translate(0,1031.5)").call(d3.axisBottom(pcx).tickSize(6.5).tickPadding(9));
pa.select(".domain").remove();pa.selectAll("text").attr("font-size",18.5).attr("fill","#111").attr("font-family","Liberation Sans");pa.selectAll("line").attr("stroke","#222").attr("stroke-width",1.2);
pa.selectAll("line").filter(d=>d==="-3.4").remove();
T(1018,1082.7,"PC1",{size:18.5,anchor:"middle"});
svg.append("line").attr("x1",799.6).attr("x2",799.6).attr("y1",877).attr("y2",883).attr("stroke","#222").attr("stroke-width",1.6);
// colour bar
const cbar=d3.scaleLinear().domain([-.79,.89]).range([837,1200.7]);
svg.append("g").selectAll("rect").data(d3.range(-.79,.89,.01)).join("rect").attr("x",d=>cbar(d)).attr("y",136).attr("width",cbar(.01)-cbar(0)+.6).attr("height",16.4).attr("fill",d=>blue(d));
const ca=svg.append("g").attr("transform","translate(0,136)").call(d3.axisTop(cbar).tickValues([-.6,-.3,0,.3,.6]).tickFormat(d3.format(".1f")).tickSize(6).tickPadding(10));
ca.select(".domain").remove();ca.selectAll("text").attr("font-size",18.8).attr("fill","#111").attr("font-family","Liberation Sans");ca.selectAll("line").attr("stroke","#222").attr("stroke-width",1.2);

// ---------- d ----------
dashed(327,1226,1565,2.4,"8,5");
function arrow(x0,x1,y){const dir=x1>x0?1:-1,base=x1-dir*25;
 svg.append("line").attr("x1",x0).attr("x2",base).attr("y1",y).attr("y2",y).attr("stroke","#0a0a0a").attr("stroke-width",3);
 svg.append("path").attr("d",`M${x1},${y}L${base},${y-10.5}L${base+dir*5},${y}L${base},${y+10.5}Z`).attr("fill","#0a0a0a");}
arrow(290.5,150.5,1247.3);arrow(357,497,1247.3);
T(62,1278,"Cells left of threshold",{size:22.7});T(356,1278,"Cells right of threshold",{size:22.7});
hist({x0:78.5,x1:291.8,y0:1297.3,y1:1506},[3.43,9.67],[0,468],[4,5,6,7,8,9],[0,100,200,300,400],histDLeft,3.9,.152,pink);
hist({x0:432,x1:646,y0:1297.3,y1:1506},[3.44,9.72],[0,153],[4,5,6,7,8,9],[0,20,40,60,80,100,120,140],histDRight,3.92,.164,grn);
["Median = 31.0","mRNA UMIs","Per Cell"].forEach((s,i)=>T(235.5,1315.7+16.3*i,s,{size:15.5,anchor:"middle"}));
["Median = 62.0","mRNA UMIs","Per Cell"].forEach((s,i)=>T(594.5,1315.7+16.3*i,s,{size:15.5,anchor:"middle"}));
T(21,1404,"Number of Cells",{size:22.7,anchor:"middle",rotate:true});
T(386,1404,"Number of Cells",{size:22.7,anchor:"middle",rotate:true});
logLabel(187,1551.7);logLabel(541,1551.7);

// ---------- e, f ----------
function panel(o){
 const b=o.box,y=d3.scaleLinear().domain([0,103.1]).range([b.y1,b.y0]);
 let acc=0;const cols=["#333333","#9a9a9a"];
 o.stack.forEach((v,i)=>{svg.append("rect").attr("x",o.bar[0]).attr("width",o.bar[1]-o.bar[0]).attr("y",y(acc+v)).attr("height",y(acc)-y(acc+v)).attr("fill",cols[i]).attr("stroke","#eee").attr("stroke-width",1.2);acc+=v;});
 frame(b,"#111",1.8);
 const ay=svg.append("g").attr("transform",`translate(${b.x0},0)`).call(d3.axisLeft(y).tickValues(d3.range(10,101,10)).tickSize(6.5).tickPadding(6));
 ay.select(".domain").remove();ay.selectAll("text").attr("font-size",18).attr("fill","#111").attr("font-family","Liberation Sans");ay.selectAll("line").attr("stroke","#222").attr("stroke-width",1.1);
 T(o.ylx,1357.8,"Percent of UMIs",{size:22.6,anchor:"middle",rotate:true});
 o.labels.forEach((s,i)=>T(o.cx,[1594.5,1622.3,1649.3][i],s,{size:22.6,anchor:"middle",italic:i===2}));
 T(o.tx,o.antiY,o.antiText,{size:22.7});T(o.tx,1328,o.senseText,{size:23});
 svg.append("path").attr("d",d3.line()(o.wedge)).attr("fill","none").attr("stroke","#111").attr("stroke-width",1.4);
 const start=o.start*Math.PI/180;
 const pie=d3.pie().sort(null).startAngle(start).endAngle(start+2*Math.PI)(o.pie);
 const arc=d3.arc().innerRadius(0).outerRadius(108.5);
 svg.append("g").attr("transform",`translate(${o.pc[0]},${o.pc[1]})`).selectAll("path").data(pie).join("path").attr("d",arc).attr("fill",(d,i)=>["#4682b4","#f5f5f5"][i]).attr("stroke","#111").attr("stroke-width",1);
 T(o.rx,1481,"rRNA",{size:22.6,bold:true});T(o.rx,1508,o.pie[1].toFixed(1)+"%",{size:22.6});
 T(o.mc,o.mb,o.pie[0].toFixed(1)+"%",{size:22.8,anchor:"middle"});T(o.mx,1491.4,"mRNA",{size:22.8,bold:true});
 svg.append("rect").attr("x",o.leg[0]).attr("y",1676.6).attr("width",o.leg[1]-o.leg[0]).attr("height",120.8).attr("rx",4).attr("fill","#fff").attr("stroke","#ccc").attr("stroke-width",1.8);
 legendNames.forEach((s,i)=>{const cy=[1693.9,1722.5,1750.7,1779.3][i];
  svg.append("rect").attr("x",o.patch[0]).attr("width",o.patch[1]-o.patch[0]).attr("y",cy-6).attr("height",12).attr("fill",legendColors[i]).attr("stroke",i===1?"#999":legendColors[i]).attr("stroke-width",1);
  T(o.patch[1]+7.5,cy+7.5,s,{size:22.7});});
}
panel({box:{x0:860,x1:965.7,y0:1164.4,y1:1567.2},bar:[865.7,959.6],stack:stackE,ylx:815.7,labels:labelsE,cx:913,tx:982.9,antiY:1215,antiText:"anti-sense: 10.5%",senseText:"sense: 89.5%",
 wedge:[[1028.6,1388.3],[1083.6,1333.6],[1137,1390.8]],pie:pieE,start:63,pc:[1082,1489.3],rx:997.9,mc:1153,mb:1491.4,mx:1202.9,leg:[840,1008.6],patch:[846.4,882.5]});
panel({box:{x0:1382.9,x1:1488,y0:1164.4,y1:1567.2},bar:[1388.3,1482.5],stack:stackF,ylx:1337.8,labels:labelsF,cx:1435,tx:1505,antiY:1204,antiText:"anti-sense: 9.0%",senseText:"sense: 91.0%",
 wedge:[[1550,1388.7],[1605.4,1333.6],[1659.3,1390.8]],pie:pieF,start:72,pc:[1604.7,1489.3],rx:1520,mc:1674.7,mb:1495,mx:1725,leg:[1362.4,1531.3],patch:[1369.2,1404.4]});
</script></body></html>
